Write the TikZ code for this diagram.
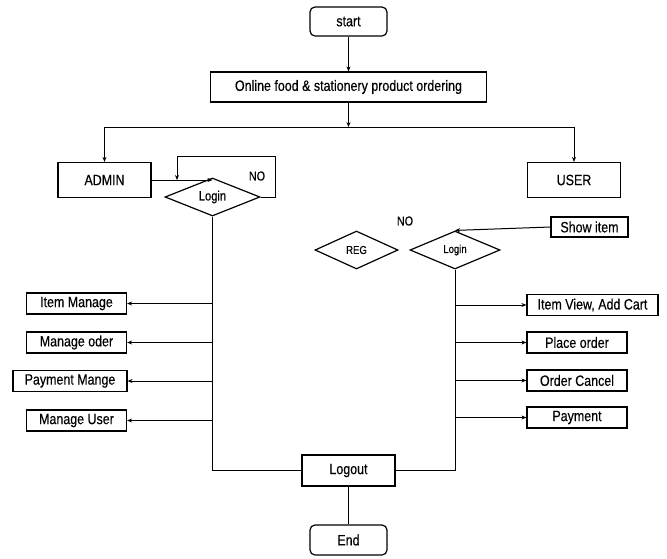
\documentclass[tikz,border=0pt]{standalone}
\usepackage{fontspec}
\setmainfont{Liberation Sans}[FakeStretch=0.83,FakeBold=0.4]
\usetikzlibrary{arrows.meta,shapes.geometric}
\begin{document}
\begin{tikzpicture}[x=1pt,y=-1pt,
  every node/.style={font=\fontsize{15}{17}\selectfont, inner sep=0pt},
  box/.style={draw, line width=1.2pt, minimum width=#1, minimum height=21},
  bigbox/.style={draw, line width=1.2pt, minimum width=#1, minimum height=35},
  term/.style={draw, line width=1.2pt, rounded corners=5pt, minimum width=77, minimum height=29},
  decision/.style={draw, line width=1.2pt, diamond, aspect=2.3, minimum width=#1, minimum height=38,
    font=\fontsize{11.5}{13}\selectfont},
  flow/.style={line width=1pt},
  arr/.style={flow, -{Stealth[length=5pt,width=4pt]}},
  lbl/.style={font=\fontsize{13}{15}\selectfont}
]
\useasboundingbox[fill=white] (0,0) rectangle (667,558);

% top part
\node[term] (start) at (348.5,21.5) {start};
\node[draw, line width=1.2pt, minimum width=276, minimum height=30] (online) at (348.5,87) {Online food \& stationery product ordering};
\coordinate (split) at (348.5,127);

\node[bigbox=93] (admin) at (104.5,180) {ADMIN};
\node[bigbox=93] (user) at (574,180) {USER};

\draw[arr] (start) -- (online);
\draw[arr] (online) -- (split);
\draw[flow] (admin.north |- split) -- (user.north |- split);
\draw[arr] (admin.north |- split) -- (admin.north);
\draw[arr] (user.north |- split) -- (user.north);

% admin side
\node[decision=95, font=\fontsize{13.5}{15}\selectfont] (login1) at (212.5,197) {Login};
\node[lbl] (no1) at (257,176) {NO};
\coordinate (loopA) at (275,156);
\coordinate (loopB) at (177,156);
\draw[arr] (admin.east) -- (admin.east -| login1.north);
\draw[arr] (login1.east) -| (loopA) -- (loopB) -- (loopB |- admin.east);

\node[box=100] (itemmanage) at (76.5,303.5) {Item Manage};
\node[box=100] (manageoder) at (76.5,342.5) {Manage oder};
\node[box=114] (paymange)   at (70,381) {Payment Mange};
\node[box=100] (manageuser) at (76.5,420.5) {Manage User};

\foreach \b in {itemmanage,manageoder,paymange,manageuser}
  \draw[arr] (login1.south |- \b.east) -- (\b.east);

% user side
\node[decision=83] (reg) at (356.5,250) {REG};
\node[decision=90] (login2) at (455,250) {Login};
\node[lbl] (no2) at (405,221) {NO};
\node[box=77, minimum height=20] (showitem) at (589.5,227) {Show item};
\draw[arr] (showitem.west) -- (login2.north);

\node[box=131] (itemview)    at (592.5,305) {Item View, Add Cart};
\node[box=100] (placeorder)  at (577,342.5) {Place order};
\node[box=100] (ordercancel) at (577,380.5) {Order Cancel};
\node[box=100] (payment)     at (577,417.5) {Payment};

\foreach \b in {itemview,placeorder,ordercancel,payment}
  \draw[arr] (login2.south |- \b.west) -- (\b.west);

% bottom
\node[draw, line width=1.2pt, minimum width=93, minimum height=31] (logout) at (348.5,470.5) {Logout};
\node[term, minimum height=30] (end) at (348.5,540) {End};

\draw[flow] (login1.south) |- (logout.west);
\draw[flow] (login2.south) |- (logout.east);
\draw[flow] (logout.south) -- (end.north);
\end{tikzpicture}
\end{document}
